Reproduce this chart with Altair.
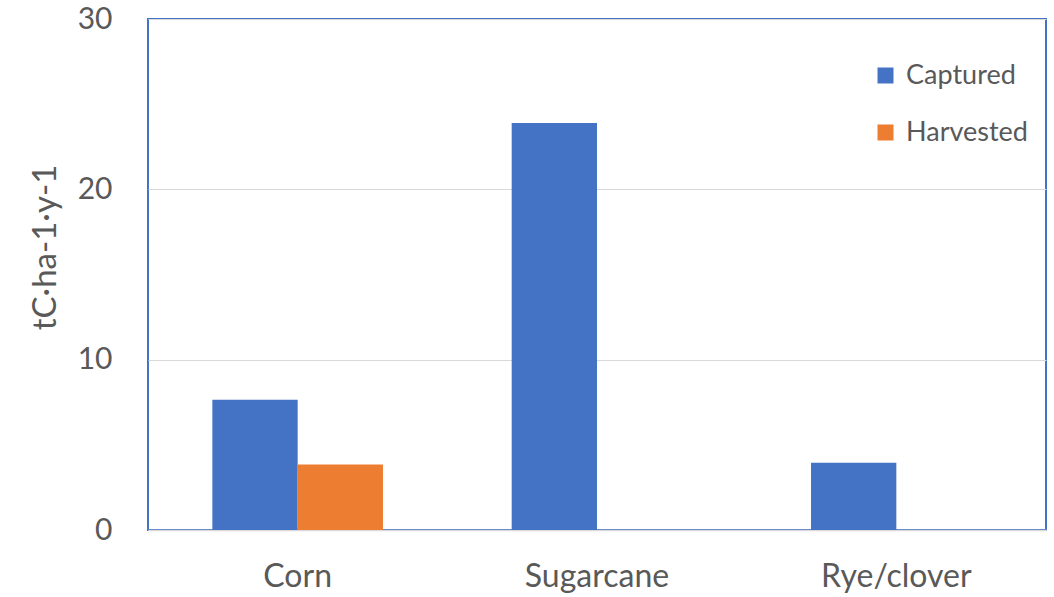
import altair as alt
import pandas as pd

crops = ["Corn", "Sugarcane", "Rye/clover"]
series = ["Captured", "Harvested"]
captured = [7.65, 23.9, 3.95]
harvested = [3.85, None, None]
colors = ["#4472C4", "#ED7D31"]
y_ticks = [0, 10, 20, 30]

rows = []
for c, v in zip(crops, captured):
    rows.append({"crop": c, "series": "Captured", "value": v})
for c, v in zip(crops, harvested):
    if v is not None:
        rows.append({"crop": c, "series": "Harvested", "value": v})
df = pd.DataFrame(rows)

FONT = "Lato"
GRAY = "#595959"

chart = alt.Chart(df).mark_bar().encode(
    x=alt.X("crop:N", sort=crops,
            scale=alt.Scale(domain=crops, paddingInner=0.43, paddingOuter=0.215),
            axis=alt.Axis(title=None, labelAngle=0, labelFontSize=32, labelColor=GRAY,
                          labelFont=FONT, ticks=False, labelPadding=31,
                          domainColor="#D9D9D9", domainWidth=1.5)),
    xOffset=alt.XOffset("series:N", scale=alt.Scale(domain=series, paddingInner=0, paddingOuter=0)),
    y=alt.Y("value:Q", scale=alt.Scale(domain=[0, 30], nice=False),
            axis=alt.Axis(values=y_ticks, title="tC·ha-1·y-1", titleFontSize=33,
                          titleFont=FONT, titleColor=GRAY, titleFontWeight="normal",
                          titleX=-103, titleY=228, titleAngle=270, titleAlign="center",
                          titleBaseline="middle",
                          labelFontSize=30, labelFont=FONT, labelColor=GRAY,
                          labelPadding=36, ticks=False, domain=False,
                          gridColor="#D9D9D9", gridWidth=1.2)),
    color=alt.Color("series:N", scale=alt.Scale(domain=series, range=colors),
                    legend=alt.Legend(title=None, orient="none", legendX=724, legendY=43,
                                      symbolType="square", symbolSize=256,
                                      symbolStrokeWidth=0,
                                      labelFontSize=27, labelFont=FONT, labelColor=GRAY,
                                      rowPadding=29, labelOffset=7)),
).properties(
    width=898, height=511,
    autosize="none",
    padding={"left": 148, "top": 19, "right": 8, "bottom": 67},
).configure(
    background="white"
).configure_view(
    stroke="#4472C4", strokeWidth=2
)

chart.save("out.html", embed_options={"renderer": "svg", "actions": False})
